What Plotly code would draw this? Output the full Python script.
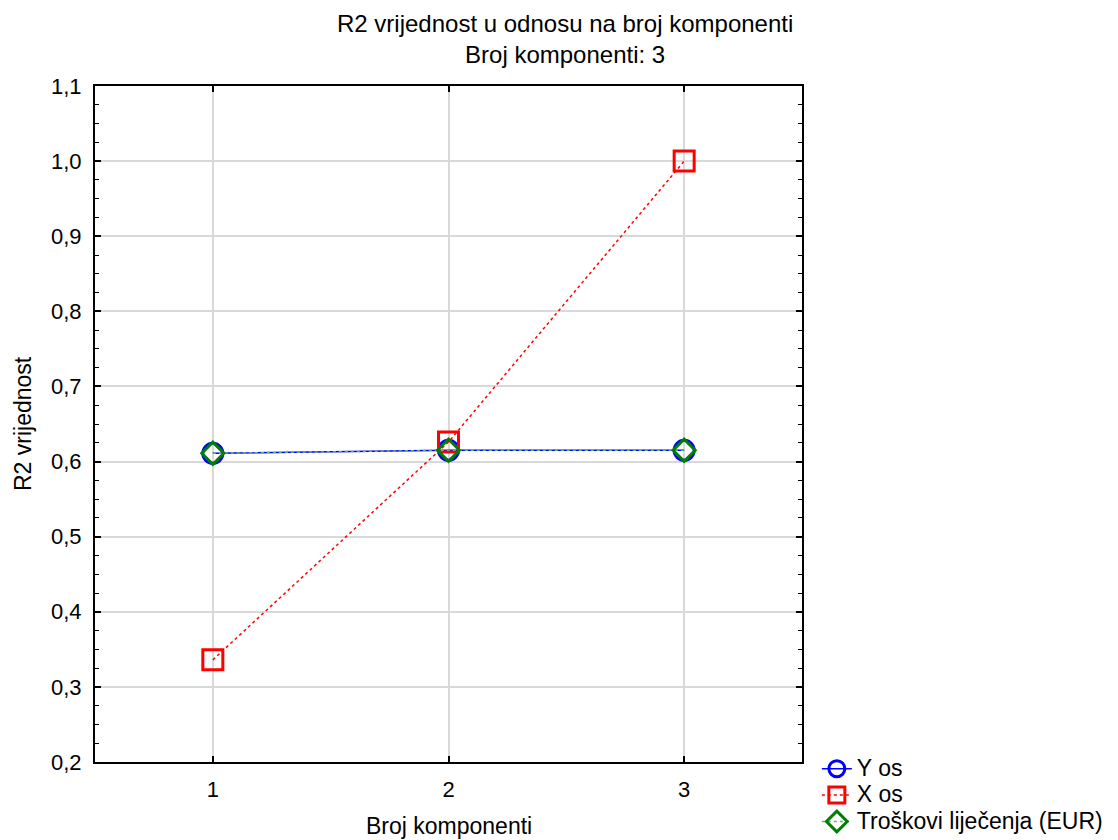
import plotly.graph_objects as go

components = [1, 2, 3]
y_os = [0.611, 0.615, 0.615]
x_os = [0.336, 0.626, 1.0]
troskovi = [0.611, 0.615, 0.615]
series_names = ["Y os", "X os", "Troškovi liječenja (EUR)"]

FONT = "Liberation Sans, Arial, sans-serif"


def legend_name(s):
    return "<span style='font-size:23px'>" + s + "</span>"


fig = go.Figure()
fig.add_trace(go.Scatter(
    x=components, y=y_os, name=legend_name(series_names[0]), mode="lines+markers",
    line=dict(color="#0000ff", width=1.5),
    marker=dict(symbol="circle-open", size=20, color="#0000ff", line=dict(width=3, color="#0000ff")),
))
fig.add_trace(go.Scatter(
    x=components, y=x_os, name=legend_name(series_names[1]), mode="lines+markers",
    line=dict(color="#ff0000", width=1.5, dash="dot"),
    marker=dict(symbol="square-open", size=20, color="#ff0000", line=dict(width=3, color="#ff0000")),
))
fig.add_trace(go.Scatter(
    x=components, y=troskovi, name=legend_name(series_names[2]), mode="lines+markers",
    line=dict(color="#66b266", width=1.5, dash="dot"),
    marker=dict(symbol="diamond-open", size=17, color="#008000", line=dict(width=3, color="#008000")),
))

fig.update_layout(
    width=1110, height=832,
    margin=dict(l=87, r=316, t=78, b=78, autoexpand=False),
    paper_bgcolor="white", plot_bgcolor="white",
    separators=",.",
    font=dict(family=FONT, size=22, color="black"),
    showlegend=True,
    legend=dict(x=1.021, xanchor="left", y=0.017, yanchor="top",
                font=dict(size=18), bgcolor="rgba(0,0,0,0)",
                tracegroupgap=0, itemwidth=30),
    annotations=[
        dict(text="R2 vrijednost u odnosu na broj komponenti<br>Broj komponenti: 3",
             xref="paper", yref="paper", x=0.665, y=1.0, yshift=78,
             xanchor="center", yanchor="top", showarrow=False,
             font=dict(size=24)),
        dict(text="Broj komponenti", xref="paper", yref="paper",
             x=0.5, y=0, yshift=-49, xanchor="center", yanchor="top",
             showarrow=False, font=dict(size=23)),
        dict(text="R2 vrijednost", xref="paper", yref="paper",
             x=0, xshift=-72, y=0.5, xanchor="center", yanchor="middle",
             textangle=-90, showarrow=False, font=dict(size=23)),
    ],
)

fig.update_xaxes(
    range=[0.5, 3.5], tickvals=components, ticktext=[str(c) for c in components],
    showline=True, linecolor="black", linewidth=2, mirror="ticks",
    ticks="inside", ticklen=6, tickwidth=1.5, tickcolor="black",
    showgrid=True, gridcolor="#d9d9d9", gridwidth=1.5, zeroline=False,
    ticklabelstandoff=7,
)
fig.update_yaxes(
    range=[0.2, 1.1], dtick=0.1, tick0=0.2, tickformat=".1f",
    showline=True, linecolor="black", linewidth=2, mirror="ticks",
    ticks="inside", ticklen=6, tickwidth=1.5, tickcolor="black",
    minor=dict(dtick=0.025, ticks="inside", ticklen=4, tickwidth=1.2, tickcolor="black", showgrid=False),
    showgrid=True, gridcolor="#d9d9d9", gridwidth=1.5, zeroline=False,
    ticklabelstandoff=7,
)

fig.write_html("out.html")
